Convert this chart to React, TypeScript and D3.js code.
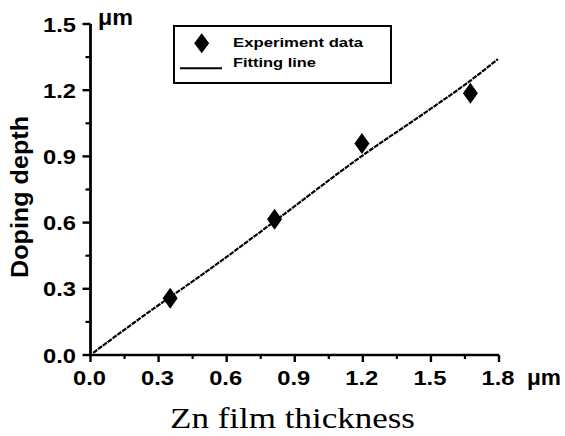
import React from "react";
import * as d3 from "d3";

const expX = [0.351, 0.811, 1.196, 1.674];
const expY = [0.257, 0.615, 0.959, 1.186];
const fitX = [0.012, 0.218, 0.527, 0.81, 1.2, 1.498, 1.667, 1.795];
const fitY = [0.01, 0.166, 0.39, 0.605, 0.905, 1.115, 1.238, 1.341];
const xTicks = [0, 0.3, 0.6, 0.9, 1.2, 1.5, 1.8];
const yTicks = [0, 0.3, 0.6, 0.9, 1.2, 1.5];
const xMinor = [0.15, 0.45, 0.75, 1.05, 1.35, 1.65];
const yMinor = [0.15, 0.45, 0.75, 1.05, 1.35];
const legendLabels = ["Experiment data", "Fitting line"];

const W = 565;
const H = 436;

export default function App() {
  const x = d3.scaleLinear().domain([0, 1.8]).range([90.5, 499]);
  const y = d3.scaleLinear().domain([0, 1.5]).range([355, 24]);
  const line = d3
    .line<number>()
    .x((_, i) => x(fitX[i]))
    .y((d) => y(d))
    .curve(d3.curveMonotoneX);
  const diamond = (cx: number, cy: number, hw: number, hh: number) =>
    `M${cx},${cy - hh}L${cx + hw},${cy}L${cx},${cy + hh}L${cx - hw},${cy}Z`;
  const sans = "Arial, 'Liberation Sans', Helvetica, sans-serif";
  const serif = "'Times New Roman', 'Liberation Serif', serif";
  const fmt = d3.format(".1f");

  return (
    <svg
      width={W}
      height={H}
      style={{ position: "absolute", left: 0, top: 0, background: "#fff" }}
    >
      {/* fitting line */}
      <path
        d={line(fitY) || ""}
        fill="none"
        stroke="#000"
        strokeWidth={2.2}
        strokeDasharray="5 1"
      />
      {/* experiment points */}
      {expX.map((v, i) => (
        <path key={i} d={diamond(x(v), y(expY[i]), 7.5, 10.5)} fill="#000" />
      ))}
      {/* axes */}
      <line x1={x(0)} x2={x(1.8)} y1={y(0)} y2={y(0)} stroke="#000" strokeWidth={2.6} />
      <line x1={x(0)} x2={x(0)} y1={y(0)} y2={y(1.5)} stroke="#000" strokeWidth={2.8} />
      {xTicks.map((t) => (
        <g key={"xt" + t}>
          <line x1={x(t)} x2={x(t)} y1={y(0)} y2={y(0) + 7} stroke="#000" strokeWidth={2.4} />
          <text
            x={x(t) - 1}
            y={385}
            textAnchor="middle"
            fontFamily={sans}
            fontWeight="bold"
            fontSize={21}
            textLength={33}
            lengthAdjust="spacingAndGlyphs"
          >
            {fmt(t)}
          </text>
        </g>
      ))}
      {xMinor.map((t) => (
        <line key={"xm" + t} x1={x(t)} x2={x(t)} y1={y(0)} y2={y(0) + 4} stroke="#000" strokeWidth={2.2} />
      ))}
      {yTicks.map((t) => (
        <g key={"yt" + t}>
          <line x1={x(0) - 8} x2={x(0)} y1={y(t)} y2={y(t)} stroke="#000" strokeWidth={2.4} />
          <text
            x={76}
            y={y(t) + 7.5}
            textAnchor="end"
            fontFamily={sans}
            fontWeight="bold"
            fontSize={21}
            textLength={33}
            lengthAdjust="spacingAndGlyphs"
          >
            {fmt(t)}
          </text>
        </g>
      ))}
      {yMinor.map((t) => (
        <line key={"ym" + t} x1={x(0) - 5} x2={x(0)} y1={y(t)} y2={y(t)} stroke="#000" strokeWidth={2.2} />
      ))}
      {/* units */}
      <text x={98} y={25} fontFamily={sans} fontWeight={600} fontSize={22} textLength={35} lengthAdjust="spacingAndGlyphs">
        μm
      </text>
      <text x={527} y={385} fontFamily={sans} fontWeight={600} fontSize={22} textLength={34} lengthAdjust="spacingAndGlyphs">
        μm
      </text>
      {/* axis titles */}
      <text
        x={292.5}
        y={428}
        textAnchor="middle"
        fontFamily={serif}
        fontSize={29}
        textLength={245}
        lengthAdjust="spacingAndGlyphs"
      >
        Zn film thickness
      </text>
      <text
        transform={`translate(28,197) rotate(-90)`}
        textAnchor="middle"
        fontFamily={sans}
        fontWeight="bold"
        fontSize={23}
        textLength={162}
        lengthAdjust="spacingAndGlyphs"
      >
        Doping depth
      </text>
      {/* legend */}
      <rect x={174} y={26} width={217} height={57} fill="#fff" stroke="#000" strokeWidth={2} />
      <path d={diamond(201.7, 43.3, 7.5, 10)} fill="#000" />
      <line x1={180} x2={222} y1={68.3} y2={68.3} stroke="#000" strokeWidth={2} />
      <text x={233} y={47} fontFamily={sans} fontWeight="bold" fontSize={13.5} textLength={130} lengthAdjust="spacingAndGlyphs">
        {legendLabels[0]}
      </text>
      <text x={233} y={66.5} fontFamily={sans} fontWeight="bold" fontSize={13.5} textLength={83} lengthAdjust="spacingAndGlyphs">
        {legendLabels[1]}
      </text>
    </svg>
  );
}
